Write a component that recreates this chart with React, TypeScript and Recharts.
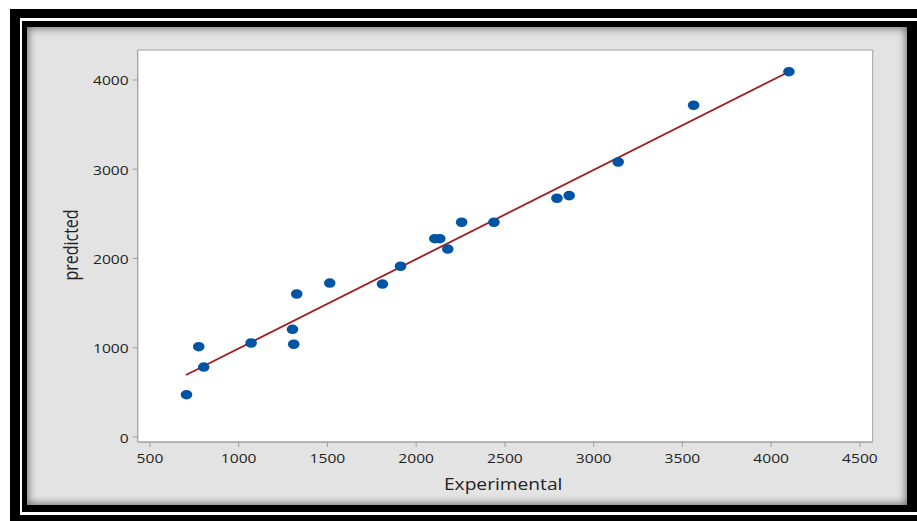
import React from 'react';
import { ScatterChart, Scatter, XAxis, YAxis, CartesianGrid, ReferenceArea } from 'recharts';

const experimental = [706, 775, 803, 1070, 1303, 1310, 1327, 1513, 1810, 1912, 2105, 2133, 2178, 2256, 2438, 2793, 2862, 3138, 3563, 4100];
const predicted = [474, 1012, 784, 1053, 1207, 1039, 1602, 1725, 1714, 1913, 2222, 2222, 2106, 2406, 2406, 2675, 2704, 3081, 3717, 4093];
const fitX = [703, 4100];
const fitY = [695, 4093];
const xTicks = [500, 1000, 1500, 2000, 2500, 3000, 3500, 4000, 4500];
const yTicks = [0, 1000, 2000, 3000, 4000];

const points = experimental.map((x, i) => ({ x, y: predicted[i] }));
const fitLine = fitX.map((x, i) => ({ x, y: fitY[i] }));

const FONT = '"Open Sans", "Noto Sans", sans-serif';
const AXIS = '#a0a0a0';
const TXT = '#222222';

const XTick = (props: any) => {
  const { x, y, payload } = props;
  return (
    <text transform={`translate(${x},${y}) scale(1.2,1)`} textAnchor="middle" dy={11.7} fontSize={13} fontWeight={500} fill={TXT} fontFamily={FONT}>
      {payload.value}
    </text>
  );
};

const YTick = (props: any) => {
  const { x, y, payload } = props;
  return (
    <text transform={`translate(${x},${y}) scale(1.2,1)`} textAnchor="end" dy={5.5} fontSize={13} fontWeight={500} fill={TXT} fontFamily={FONT}>
      {payload.value}
    </text>
  );
};

const Dot = (props: any) => {
  const { cx, cy } = props;
  if (cx == null || cy == null) return <g />;
  return <ellipse cx={cx} cy={cy} rx={5.8} ry={4.8} fill="#0054a6" />;
};

const NoDot = () => <g />;

const XTitle = (props: any) => {
  const vb = props.viewBox;
  return (
    <text transform={`translate(${vb.x + vb.width / 2 - 2},${vb.y + 48}) scale(1.2,1)`} textAnchor="middle" fontSize={16} fontWeight={500} fill={TXT} fontFamily={FONT}>
      Experimental
    </text>
  );
};

const YTitle = (props: any) => {
  const vb = props.viewBox;
  return (
    <text transform={`translate(${vb.x + vb.width - 60},${vb.y + vb.height / 2 - 1}) scale(1.2,1) rotate(-90)`} textAnchor="middle" fontSize={16} fontWeight={500} fill={TXT} fontFamily={FONT}>
      predicted
    </text>
  );
};

export default function App() {
  return (
    <div style={{ position: 'absolute', left: 0, top: 0, width: 917, height: 521, background: '#fff', overflow: 'hidden' }}>
      <div style={{ position: 'absolute', left: 10, top: 9, width: 930, height: 530, background: '#000' }} />
      <div style={{ position: 'absolute', left: 20, top: 18, width: 905, height: 497, background: '#fff' }} />
      <div style={{ position: 'absolute', left: 22, top: 21, width: 897, height: 491, background: '#000' }} />
      <div style={{ position: 'absolute', left: 27, top: 27, width: 880, height: 478, background: '#e3e3e3', boxShadow: 'inset 0 0 8px 1px rgba(0,0,0,0.55)' }} />
      <div style={{ position: 'absolute', left: 0, top: 0 }}>
        <ScatterChart width={917} height={521} margin={{ top: 50, right: 44.3, left: 67.7, bottom: 39 }}>
          <CartesianGrid horizontal={false} vertical={false} fill="#ffffff" />
          <XAxis
            type="number"
            dataKey="x"
            domain={[431, 4572]}
            ticks={xTicks}
            allowDataOverflow
            height={40}
            stroke={AXIS}
            tickSize={5}
            tickMargin={4}
            tick={<XTick />}
            label={{ content: XTitle }}
          />
          <YAxis
            type="number"
            dataKey="y"
            domain={[-56, 4336]}
            ticks={yTicks}
            allowDataOverflow
            width={70}
            stroke={AXIS}
            tickSize={5}
            tickMargin={4}
            tick={<YTick />}
            label={{ content: YTitle }}
          />
          <ReferenceArea x1={431} x2={4572} y1={-56} y2={4336} fill="none" stroke={AXIS} strokeWidth={1} ifOverflow="visible" />
          <Scatter data={fitLine} line={{ stroke: '#a01a1e', strokeWidth: 1.8 }} shape={NoDot} isAnimationActive={false} legendType="none" />
          <Scatter data={points} shape={Dot} isAnimationActive={false} />
        </ScatterChart>
      </div>
    </div>
  );
}
